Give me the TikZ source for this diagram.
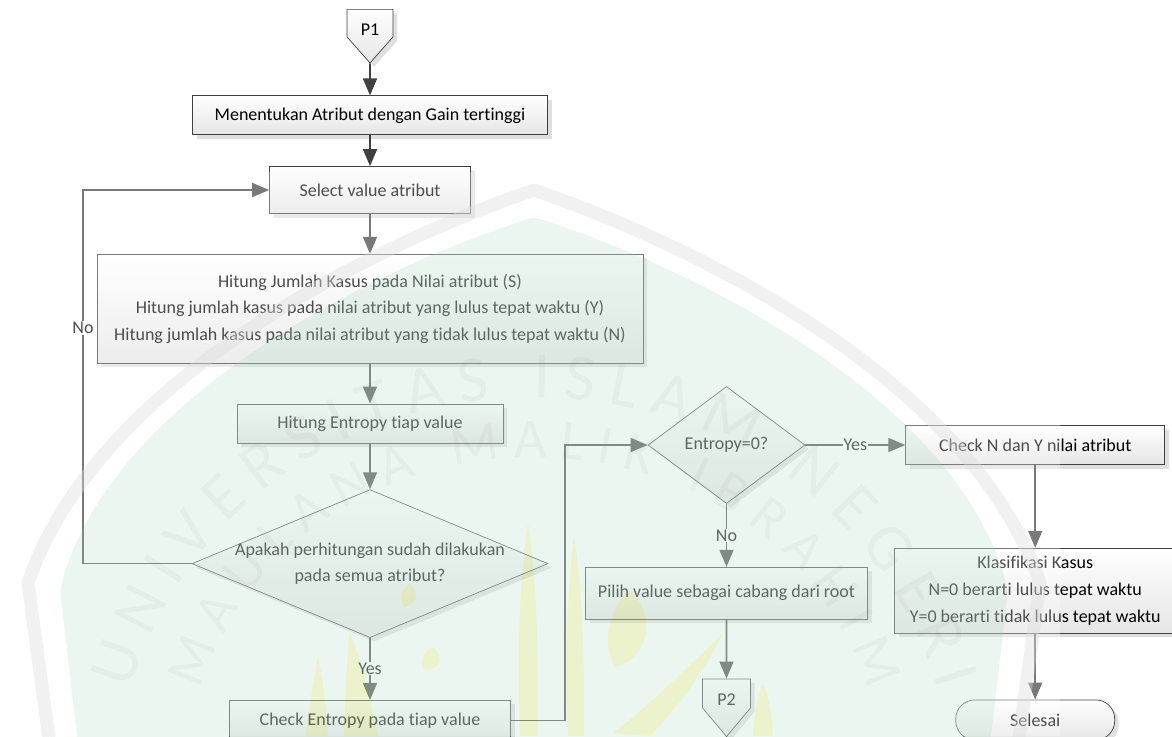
\documentclass[tikz,border=0pt]{standalone}
\usepackage{fontspec}
\setmainfont{Carlito}[Ligatures=NoCommon]
\usetikzlibrary{positioning,arrows.meta,shapes.geometric,shapes.symbols,shadows,decorations.text}
\definecolor{linegray}{HTML}{404040}
\definecolor{shieldgreen}{HTML}{9FD4B5}
\definecolor{bandgray}{HTML}{DDDDDD}
\definecolor{callyellow}{HTML}{FFFBDA}
\tikzset{
    flowbox/.style={draw=linegray, line width=.7pt, top color=white, bottom color=black!10,
        drop shadow={shadow xshift=4pt, shadow yshift=-4pt, opacity=.25},
        inner sep=0pt, align=center, font=\fontsize{18}{26.7}\selectfont},
    decision/.style={flowbox, diamond, inner xsep=-30pt, shape aspect=2.4},
    pagelink/.style={flowbox, signal, signal to=south, signal from=nowhere, anchor=north},
    flowline/.style={draw=linegray, line width=1.6pt, -{Triangle[length=17pt,width=14pt]}},
    edgelabel/.style={fill=white, inner sep=1pt, font=\fontsize{18}{20}\selectfont}
}
\begin{document}
\begin{tikzpicture}[x=1pt,y=-1pt]
    \useasboundingbox (0,0) rectangle (1172,736);

    % Draw left column.
    \node[pagelink, minimum width=46pt, minimum height=38pt, signal pointer angle=83] (pSatu) at (370,9) {\smash{\raisebox{-12pt}{P1}}};
    \node[flowbox, minimum width=355pt, minimum height=39pt, below=32pt of pSatu.south] (gain) {Menentukan Atribut dengan Gain tertinggi};
    \node[flowbox, minimum width=201pt, minimum height=47pt, below=31pt of gain] (select) {Select value atribut};
    \node[flowbox, minimum width=546pt, minimum height=109pt, below=40pt of select] (jumlah) {Hitung Jumlah Kasus pada Nilai atribut (S)\\
        Hitung jumlah kasus pada nilai atribut yang lulus tepat waktu (Y)\\
        Hitung jumlah kasus pada nilai atribut yang tidak lulus tepat waktu (N)};
    \node[flowbox, minimum width=266pt, minimum height=39pt, below=40pt of jumlah] (entropy) {Hitung Entropy tiap value};
    \node[decision, minimum width=356pt, minimum height=148pt, below=46pt of entropy] (semua) {Apakah perhitungan sudah dilakukan\\pada semua atribut?};
    \node[flowbox, minimum width=281pt, minimum height=40pt, below=62pt of semua] (cek) {Check Entropy pada tiap value};

    % Draw middle column.
    \node[decision, inner xsep=0pt, shape aspect=1.35, minimum width=157pt, minimum height=117pt] (nol) at (726.5,445) {Entropy=0?};
    \node[flowbox, minimum width=282pt, minimum height=52pt, below=63pt of nol] (pilih) {Pilih value sebagai cabang dari root};
    \node[pagelink, minimum width=48pt, minimum height=40pt, signal pointer angle=80, below=59pt of pilih] (pDua) {\smash{\raisebox{-12pt}{P2}}};

    % Draw right column.
    \node[flowbox, minimum width=259pt, minimum height=39pt, right=100pt of nol] (nilai) {Check N dan Y nilai atribut};
    \node[flowbox, minimum width=281pt, minimum height=85pt, below=83pt of nilai] (klasifikasi) {Klasifikasi Kasus\\N=0 berarti lulus tepat waktu\\Y=0 berarti tidak lulus tepat waktu};
    \node[flowbox, rounded corners=19pt, minimum width=159pt, minimum height=40pt, below=66pt of klasifikasi] (selesai) {Selesai};

    % Draw connectors.
    \foreach \a/\b in {pSatu/gain,gain/select,select/jumlah,jumlah/entropy,entropy/semua,pilih/pDua,nilai/klasifikasi,klasifikasi/selesai}
        \draw[flowline] (\a) -- (\b);
    \coordinate (balik) at (83,0);
    \draw[flowline] (semua.west) -- (semua.west -| balik) -- node[edgelabel,pos=.63]{No} (balik |- select.west) -- (select.west);
    \draw[flowline] (semua.south) -- node[edgelabel,pos=.49]{Yes} (cek.north);
    \draw[flowline] (cek.east) -- ++(54,0) |- (nol.west);
    \draw[flowline] (nol.east) -- node[edgelabel,pos=.5]{Yes} (nilai.west);
    \draw[flowline] (nol.south) -- node[edgelabel,pos=.5]{No} (pilih.north);

    % Draw watermark over the chart.
    \fill[white, opacity=.3] (15,172) rectangle (1060,736);
    \draw[bandgray, line width=13pt, line join=round, opacity=.4] (50,745) -- (28,583) .. controls (95,385) and (360,250) .. (534,190)
        .. controls (708,250) and (973,385) .. (1040,583) -- (1018,745);
    \fill[shieldgreen, opacity=.2, rounded corners=6pt] (78,745) -- (60,590) .. controls (110,400) and (370,270) .. (534,217)
        .. controls (698,270) and (958,400) .. (1008,590) -- (990,745) -- cycle;
    \begin{scope}[opacity=.07]
        \path[decorate, decoration={text along path, text align={fit to path}, text={|\fontsize{66}{66}\selectfont\color{gray}|UNIVERSITAS ISLAM NEGERI}}]
            (130,690) .. controls (250,300) and (818,300) .. (938,690);
        \path[decorate, decoration={text along path, text align={fit to path}, text={|\fontsize{56}{56}\selectfont\color{gray}|MAULANA MALIK IBRAHIM}}]
            (200,690) .. controls (300,380) and (768,380) .. (868,690);
    \end{scope}

    % Draw calligraphy strokes.
    \begin{scope}[callyellow, blend mode=multiply]
        \fill (528,523) .. controls (518,590) and (518,660) .. (520,736) -- (538,736) .. controls (538,660) and (538,590) .. (528,523);
        \fill (574,537) .. controls (566,600) and (566,670) .. (568,736) -- (584,736) .. controls (584,670) and (584,600) .. (574,537);
        \fill (318,657) .. controls (312,690) and (308,715) .. (306,736) -- (328,736) .. controls (326,710) and (324,685) .. (318,657);
        \fill (350,630) .. controls (346,670) and (345,700) .. (344,736) -- (378,736) .. controls (370,700) and (362,665) .. (350,630);
        \fill (410,583) .. controls (400,590) and (400,600) .. (404,607) .. controls (414,606) and (422,596) .. (410,583);
        \fill (432,647) .. controls (420,655) and (420,665) .. (426,670) .. controls (436,670) and (448,660) .. (432,647);
        \fill (630,590) .. controls (606,610) and (602,650) .. (616,667) .. controls (645,660) and (660,620) .. (630,590);
        \fill (723,633) .. controls (690,665) and (650,705) .. (613,733) -- (650,736) .. controls (680,705) and (705,670) .. (723,633);
        \fill (763,683) .. controls (756,700) and (754,720) .. (753,736) -- (773,736) .. controls (772,718) and (770,700) .. (763,683);
    \end{scope}
\end{tikzpicture}
\end{document}
